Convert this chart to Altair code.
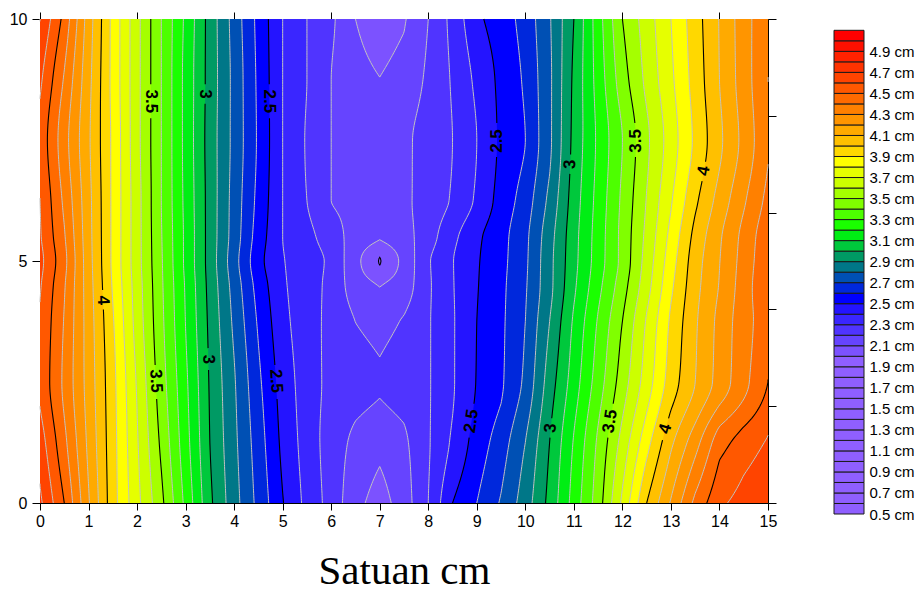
import math
import numpy as np
import pandas as pd
import altair as alt

# ---------------------------------------------------------------------------
# Gridded surface (cm): nodes along x every 0.5, rows at the listed y positions
# ---------------------------------------------------------------------------
X_NODES = [0.0, 0.5, 1.0, 1.5, 2.0, 2.5, 3.0, 3.5, 4.0, 4.5, 5.0, 5.5, 6.0, 6.5, 7.0,
           7.5, 8.0, 8.5, 9.0, 9.5, 10.0, 10.5, 11.0, 11.5, 12.0, 12.5, 13.0, 13.5,
           14.0, 14.5, 15.0]
Y_ROWS = [0.0, 1.25, 2.5, 3.75, 4.5, 5.0, 5.5, 6.25, 7.5, 8.75, 10.0]

Z_Y0_00 = [4.72, 4.50, 4.21, 3.94, 3.73, 3.525, 3.275, 3.02, 2.84, 2.67, 2.505, 2.37, 2.26, 2.13, 2.055,
           2.15, 2.30, 2.50, 2.60, 2.71, 2.85, 3.03, 3.24, 3.45, 3.72, 4.00, 4.21, 4.427, 4.58, 4.64, 4.68]
Z_Y1_25 = [4.65, 4.426, 4.178, 3.936, 3.71, 3.48, 3.24, 3.00, 2.824, 2.648, 2.476, 2.355, 2.252, 2.175, 2.13,
           2.18, 2.29, 2.416, 2.544, 2.65, 2.80, 3.00, 3.208, 3.417, 3.636, 3.864, 4.08, 4.26, 4.46, 4.546, 4.61]
Z_Y2_50 = [4.58, 4.38, 4.16, 3.93, 3.69, 3.445, 3.22, 2.99, 2.81, 2.62, 2.455, 2.347, 2.27, 2.235, 2.21,
           2.24, 2.29, 2.39, 2.505, 2.585, 2.72, 2.95, 3.15, 3.35, 3.55, 3.75, 3.95, 4.10, 4.24, 4.37, 4.50]
Z_Y3_75 = [4.59, 4.394, 4.154, 3.91, 3.66, 3.423, 3.198, 2.977, 2.78, 2.586, 2.426, 2.343, 2.271, 2.199, 2.165,
           2.208, 2.29, 2.39, 2.50, 2.58, 2.70, 2.90, 3.115, 3.31, 3.50, 3.71, 3.917, 4.086, 4.229, 4.36, 4.46]
Z_Y4_50 = [4.61, 4.41, 4.147, 3.89, 3.65, 3.415, 3.19, 2.967, 2.76, 2.557, 2.412, 2.346, 2.273, 2.145, 2.095,
           2.143, 2.286, 2.394, 2.494, 2.576, 2.688, 2.871, 3.082, 3.27, 3.455, 3.66, 3.88, 4.069, 4.205, 4.35, 4.49]
Z_Y5_00 = [4.63, 4.43, 4.14, 3.88, 3.64, 3.41, 3.18, 2.96, 2.74, 2.53, 2.405, 2.35, 2.28, 2.13, 1.993,
           2.13, 2.29, 2.396, 2.49, 2.57, 2.68, 2.87, 3.07, 3.25, 3.43, 3.64, 3.855, 4.057, 4.197, 4.34, 4.48]
Z_Y5_50 = [4.61, 4.41, 4.135, 3.88, 3.64, 3.405, 3.18, 2.96, 2.755, 2.55, 2.40, 2.333, 2.244, 2.16, 2.11,
           2.16, 2.255, 2.375, 2.48, 2.565, 2.674, 2.86, 3.065, 3.246, 3.43, 3.625, 3.83, 4.033, 4.186, 4.33, 4.47]
Z_Y6_25 = [4.60, 4.38, 4.13, 3.88, 3.64, 3.40, 3.175, 2.96, 2.76, 2.57, 2.40, 2.30, 2.20, 2.18, 2.16,
           2.18, 2.24, 2.31, 2.416, 2.54, 2.643, 2.825, 3.05, 3.235, 3.42, 3.605, 3.79, 3.98, 4.139, 4.286, 4.43]
Z_Y7_50 = [4.57, 4.34, 4.115, 3.88, 3.63, 3.40, 3.17, 2.955, 2.77, 2.585, 2.40, 2.29, 2.20, 2.17, 2.15,
           2.18, 2.237, 2.30, 2.40, 2.52, 2.60, 2.78, 3.03, 3.22, 3.40, 3.58, 3.75, 3.92, 4.08, 4.23, 4.39]
Z_Y8_75 = [4.62, 4.39, 4.13, 3.87, 3.63, 3.40, 3.17, 2.96, 2.77, 2.58, 2.40, 2.30, 2.20, 2.13, 2.102,
           2.135, 2.218, 2.31, 2.423, 2.526, 2.614, 2.78, 3.02, 3.24, 3.456, 3.625, 3.78, 3.94, 4.10, 4.25, 4.40]
Z_Y10_0 = [4.70, 4.47, 4.15, 3.87, 3.63, 3.40, 3.18, 2.96, 2.76, 2.57, 2.40, 2.30, 2.22, 2.10, 2.05,
           2.09, 2.20, 2.33, 2.48, 2.55, 2.635, 2.79, 3.00, 3.255, 3.50, 3.65, 3.80, 3.955, 4.105, 4.255, 4.39]
Z_ROWS = [Z_Y0_00, Z_Y1_25, Z_Y2_50, Z_Y3_75, Z_Y4_50, Z_Y5_00,
          Z_Y5_50, Z_Y6_25, Z_Y7_50, Z_Y8_75, Z_Y10_0]

# Colour of each 0.1 cm band, from 0.5-0.6 up to 5.0-5.1
BAND_COLORS = (["#8F5FFF"] * 15 + [
    "#7C52FF", "#6644FF", "#5034FF", "#3A26FF", "#2414FF",
    "#0000FF", "#0028DC", "#0050B4", "#007788", "#009A64",
    "#00C83C", "#00EE14", "#1AFF00", "#4DFF00", "#80FF00",
    "#A5FF00", "#CCFF00", "#E6FF00", "#FFFF00", "#FFD800",
    "#FFC000", "#FFAA00", "#FF9500", "#FF8000", "#FF6A00",
    "#FF5800", "#FF4400", "#FF3300", "#FF2200", "#FF1000",
    "#FF0000"])
BAND_EDGES = [round(0.5 + 0.1 * i, 1) for i in range(len(BAND_COLORS) + 1)]
LEGEND_TICKS = [0.5, 0.7, 0.9, 1.1, 1.3, 1.5, 1.7, 1.9, 2.1, 2.3, 2.5, 2.7,
                2.9, 3.1, 3.3, 3.5, 3.7, 3.9, 4.1, 4.3, 4.5, 4.7, 4.9]

# Inline contour labels: level, branch (L = west of the trough, R = east), y
LABEL_LEVEL = [3.5, 3.0, 2.5, 4.0, 3.5, 3.0, 2.5, 2.5, 3.0, 3.5, 4.0, 2.5, 3.0, 3.5, 4.0]
LABEL_SIDE = ["L", "L", "L", "L", "L", "L", "L", "R", "R", "R", "R", "R", "R", "R", "R"]
LABEL_Y = [8.3, 8.45, 8.3, 4.19, 2.52, 2.97, 2.52, 7.48, 7.0, 7.48, 6.86, 1.69, 1.55, 1.69, 1.53]

PLOT_W, PLOT_H = 728, 484
LABEL_SIZE = 17

# ---------------------------------------------------------------------------
# Contouring of the grid: linear between x nodes, monotone cubic between rows
# ---------------------------------------------------------------------------
xn = np.asarray(X_NODES, float)
yr = np.asarray(Y_ROWS, float)
Z = np.asarray(Z_ROWS, float)
jc = int(np.argmin(Z.mean(axis=0)))          # trough column
ys = np.linspace(0.0, 10.0, 201)

# per-column slopes for a shape-preserving (PCHIP) interpolation in y
hk = np.diff(yr)
dk = np.diff(Z, axis=0) / hk[:, None]
D = np.zeros_like(Z)
D[0], D[-1] = dk[0], dk[-1]
for k in range(1, len(yr) - 1):
    w1 = 2 * hk[k] + hk[k - 1]
    w2 = hk[k] + 2 * hk[k - 1]
    a, b = dk[k - 1], dk[k]
    same = a * b > 0
    with np.errstate(divide="ignore", invalid="ignore"):
        hm = (w1 + w2) / (w1 / a + w2 / b)
    D[k] = np.where(same, hm, 0.0)


def row_at(y):
    k = int(np.searchsorted(yr, y, side="right")) - 1
    k = max(0, min(k, len(yr) - 2))
    h = yr[k + 1] - yr[k]
    s = (y - yr[k]) / h
    h00 = 2 * s ** 3 - 3 * s ** 2 + 1
    h10 = s ** 3 - 2 * s ** 2 + s
    h01 = -2 * s ** 3 + 3 * s ** 2
    h11 = s ** 3 - s ** 2
    return h00 * Z[k] + h10 * h * D[k] + h01 * Z[k + 1] + h11 * h * D[k + 1]


P = np.array([row_at(y) for y in ys])


def cross_left(z, t):
    for j in range(jc - 1, -1, -1):
        if z[j] >= t:
            return xn[j] + (z[j] - t) / (z[j] - z[j + 1]) * (xn[j + 1] - xn[j]), False
    return xn[0], True


def cross_right(z, t):
    for j in range(jc + 1, len(xn)):
        if z[j] >= t:
            return xn[j - 1] + (t - z[j - 1]) / (z[j] - z[j - 1]) * (xn[j] - xn[j - 1]), False
    return xn[-1], True


def pieces(t):
    inside = P[:, jc] < t
    n = len(ys)
    out, k = [], 0
    while k < n:
        if not inside[k]:
            k += 1
            continue
        s = k
        while k < n and inside[k]:
            k += 1
        e = k - 1
        bottom, top = s > 0, e < n - 1
        pts = []
        if bottom:
            z0, z1 = P[s - 1, jc], P[s, jc]
            yb = ys[s - 1] + (z0 - t) / (z0 - z1) * (ys[s] - ys[s - 1])
            pts.append((yb, xn[jc], False, xn[jc], False))
        for i in range(s, e + 1):
            xl, cl = cross_left(P[i], t)
            xr, cr = cross_right(P[i], t)
            pts.append((ys[i], xl, cl, xr, cr))
        if top:
            z0, z1 = P[e, jc], P[e + 1, jc]
            yt = ys[e] + (t - z0) / (z1 - z0) * (ys[e + 1] - ys[e])
            pts.append((yt, xn[jc], False, xn[jc], False))
        out.append((pts, bottom, top))
    return out


# Filled bands: paint {z < t} from the highest threshold down
area_rows = []
order = 0
k_top = int(math.ceil(Z.max() * 10 - 1e-9))
for k10 in range(k_top, 19, -1):
    t = k10 / 10
    color = BAND_COLORS[k10 - 1 - 5]
    for pts, _, _ in pieces(t):
        pid = f"p{order:03d}"
        order += 1
        for (y, xl, _, xr, _) in pts:
            area_rows.append({"y": round(y, 4), "xl": round(xl, 4), "xr": round(xr, 4),
                              "piece": pid, "fill": color})
area_df = pd.DataFrame(area_rows)

# Label gaps along the labelled contours
px_per_y = PLOT_H / 10.0
px_per_x = PLOT_W / 15.0
labels = []
for lv, sd, ly in zip(LABEL_LEVEL, LABEL_SIDE, LABEL_Y):
    txt = f"{lv:g}"
    width = sum(0.278 if c == "." else 0.556 for c in txt) * LABEL_SIZE
    labels.append((int(round(lv * 10)), sd, ly, txt, (width / 2 + 4) / px_per_y))


def in_gap(k10, side, y):
    return any(k == k10 and s == side and abs(y - ly) < half
               for k, s, ly, _, half in labels)


line_rows = []
lid = 0
for k10 in range(20, 50):
    t = k10 / 10
    major = k10 % 5 == 0
    for pts, bottom, top in pieces(t):
        left = [(xl, y, "L", cl) for (y, xl, cl, xr, cr) in pts]
        right = [(xr, y, "R", cr) for (y, xl, cl, xr, cr) in reversed(pts)]
        if top:
            chains = [left + right[1:]]
        elif bottom:
            chains = [right + left[1:]]
        else:
            chains = [left, right]
        for ch in chains:
            n = len(ch)
            clip = [c[3] for c in ch]
            keep = []
            for i in range(n):
                ok = (not clip[i]) or (i > 0 and not clip[i - 1]) or (i < n - 1 and not clip[i + 1])
                if ok and in_gap(k10, ch[i][2], ch[i][1]):
                    ok = False
                keep.append(ok)
            run = []
            for i in range(n + 1):
                if i < n and keep[i]:
                    run.append(ch[i])
                    continue
                if len(run) >= 2:
                    for j, (x, y, _, _) in enumerate(run):
                        line_rows.append({"x": round(x, 4), "y": round(y, 4), "line": f"c{lid:04d}",
                                          "ord": j, "major": major})
                    lid += 1
                run = []
line_df = pd.DataFrame(line_rows)

label_rows = []
for k10, sd, ly, txt, _ in labels:
    t = k10 / 10
    f = cross_left if sd == "L" else cross_right
    x0 = f(row_at(ly), t)[0]
    dxdy = (f(row_at(ly + 0.15), t)[0] - f(row_at(ly - 0.15), t)[0]) / 0.3
    if sd == "L":
        ang = math.degrees(math.atan2(px_per_y, -dxdy * px_per_x))
    else:
        ang = math.degrees(math.atan2(-px_per_y, dxdy * px_per_x))
    label_rows.append({"x": x0, "y": ly, "text": txt, "angle": ang % 360})
label_df = pd.DataFrame(label_rows)

# ---------------------------------------------------------------------------
# Chart
# ---------------------------------------------------------------------------
FONT = "Liberation Sans"
xs = alt.Scale(domain=[0, 15], nice=False, zero=False)
ysc = alt.Scale(domain=[0, 10], nice=False, zero=False)
axis_common = dict(grid=False, domainColor="black", tickColor="black", domainWidth=1,
                   tickWidth=1, labelColor="black", labelFont=FONT, labelFlush=False)

bands = alt.Chart(area_df).mark_area(orient="horizontal", interpolate="linear").encode(
    y=alt.Y("y:Q", scale=ysc, axis=alt.Axis(orient="left", values=[0, 5, 10], tickSize=8,
                                             labelPadding=5, labelFontSize=16, title=None,
                                             **axis_common)),
    x=alt.X("xl:Q", scale=xs, axis=alt.Axis(orient="bottom", values=list(range(16)), tickSize=7,
                                             labelPadding=3, labelFontSize=16,
                                             title="Satuan cm", titleFont="Liberation Serif",
                                             titleFontSize=41, titleFontWeight="normal",
                                             titleColor="black", titlePadding=22,
                                             **axis_common)),
    x2="xr:Q",
    fill=alt.Fill("fill:N", scale=None),
    detail="piece:N",
)

minor_lines = alt.Chart(line_df).transform_filter("!datum.major").mark_line(
    color="#C2C2C2", strokeWidth=1).encode(
    x=alt.X("x:Q", scale=xs, axis=alt.Axis(orient="top", values=list(range(0, 15, 2)), labels=False,
                                            tickSize=7, title=None, **axis_common)),
    y=alt.Y("y:Q", scale=ysc, axis=alt.Axis(orient="right", values=list(range(0, 11, 2)), labels=False,
                                            tickSize=8, title=None, **axis_common)),
    detail="line:N",
    order="ord:Q",
)

major_lines = alt.Chart(line_df).transform_filter("datum.major").mark_line(
    color="black", strokeWidth=1.1).encode(
    x=alt.X("x:Q", scale=xs, axis=None),
    y=alt.Y("y:Q", scale=ysc, axis=None),
    detail="line:N",
    order="ord:Q",
)

contour_text = alt.Chart(label_df).mark_text(
    font=FONT, fontSize=LABEL_SIZE, fontWeight="bold", color="black",
    align="center", baseline="middle").encode(
    x=alt.X("x:Q", scale=xs, axis=None),
    y=alt.Y("y:Q", scale=ysc, axis=None),
    text="text:N",
    angle=alt.Angle("angle:Q", scale=None),
)

main = alt.layer(bands, minor_lines, major_lines, contour_text).resolve_axis(
    x="independent", y="independent").properties(width=PLOT_W, height=PLOT_H)

legend_df = pd.DataFrame({"lo": BAND_EDGES[:-1], "hi": BAND_EDGES[1:], "fill": BAND_COLORS})
legend = alt.Chart(legend_df).mark_rect(stroke="#1a1a1a", strokeWidth=1).encode(
    y=alt.Y("lo:Q", scale=alt.Scale(domain=[0.5, 5.2075], nice=False, zero=False),
            axis=alt.Axis(orient="right", values=LEGEND_TICKS,
                          labelExpr="format(datum.value, '.1f') + ' cm'",
                          ticks=False, domain=False, labelPadding=5, labelFontSize=15,
                          labelFont=FONT, labelColor="black", labelFlush=False,
                          labelOverlap=False, grid=False, title=None)),
    y2="hi:Q",
    x=alt.value(0),
    x2=alt.value(30),
    fill=alt.Fill("fill:N", scale=None),
).properties(width=30, height=495)

chart = alt.hconcat(main, legend, spacing=56).properties(
    padding={"left": 9, "top": 11, "right": 0, "bottom": 0}
).configure_view(stroke=None)

chart.save("out.html", embed_options={"renderer": "svg", "actions": False})
